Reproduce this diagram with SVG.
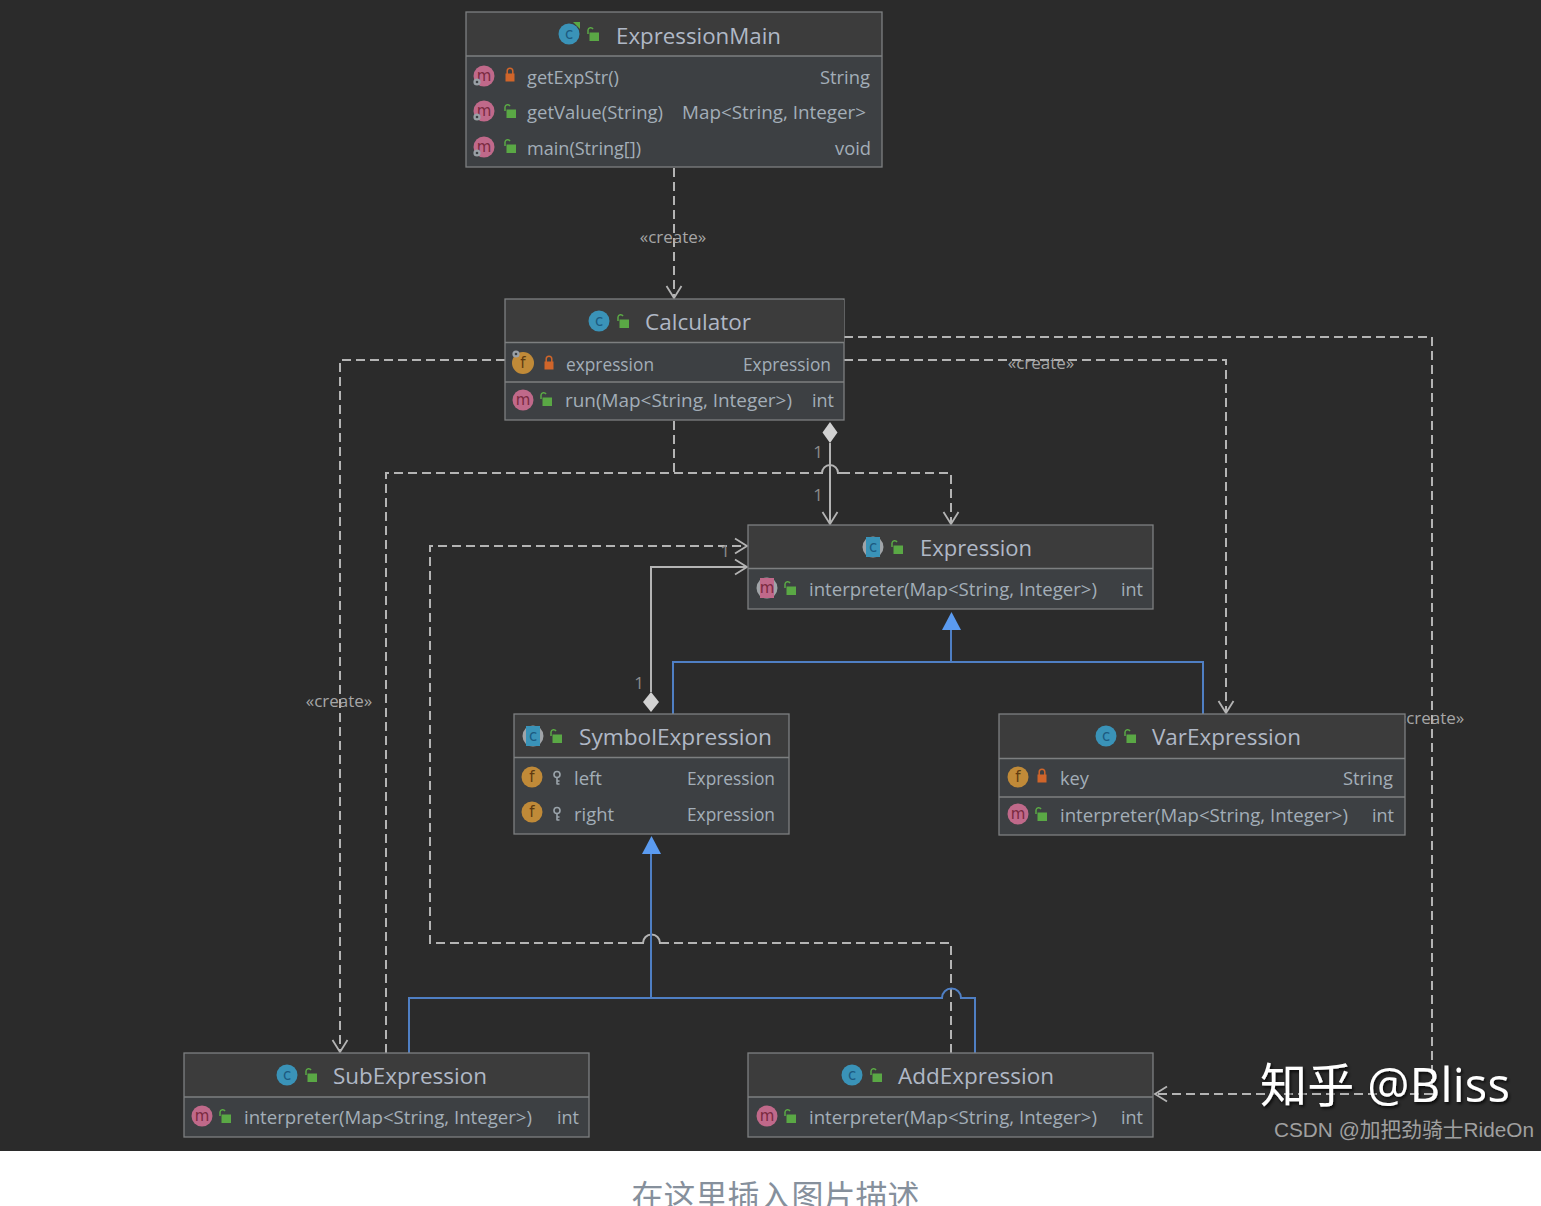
<svg xmlns="http://www.w3.org/2000/svg" width="1541" height="1206" viewBox="0 0 1541 1206">
<style>
text{font-family:"Open Sans","Noto Sans",sans-serif;fill:#a3aeb8;font-size:18.500px}
.t{font-size:22.500px;fill:#b0b8c6}
.r{text-anchor:end}
.lb{font-size:17px;fill:#a6a6a6;text-anchor:middle}
.n{font-size:17px;fill:#8c8c8c;text-anchor:middle}
.box{fill:#3d4043;stroke:#7d7f80;stroke-width:1.300}
.hd{fill:#3c3c3c}
.sep{stroke:#7d7f80;stroke-width:1.300}
.dash{fill:none;stroke:#b4b4b4;stroke-width:2;stroke-dasharray:9 5}
.solid{fill:none;stroke:#b4b4b4;stroke-width:2}
.blue{fill:none;stroke:#4f7fc4;stroke-width:2}
.ic{font-size:15px;text-anchor:middle;font-family:"DejaVu Sans",sans-serif}
.m{fill:#c0698a}.f{fill:#c08a38}.c{fill:#3a93b8}
.mt{fill:#7a2a40}.ft{fill:#5e3a10}.ct{fill:#1c5a80}
.wm{font-family:"Open Sans","Noto Sans CJK SC",sans-serif;fill:#fff;font-size:47px;filter:url(#sh)}
.cs{font-family:"Liberation Sans","Noto Sans CJK SC",sans-serif;fill:#a0a0a0;font-size:21px}
.cap{font-family:"Noto Sans CJK SC",sans-serif;fill:#86909c;font-size:32px;text-anchor:middle}
</style>
<defs>
<marker id="open" viewBox="0 0 16 18" refX="14" refY="9" markerWidth="16" markerHeight="18" markerUnits="userSpaceOnUse" orient="auto"><path d="M2 1.500L14 9L2 16.500" fill="none" stroke="#b4b4b4" stroke-width="1.800"/></marker>
<g id="lo"><path d="M-5 -1v-4a2.700 2.700 0 0 1 5-1" fill="none" stroke="#5aa845" stroke-width="1.500"/><rect x="-3.500" y="-2.500" width="9.500" height="8.500" fill="#5aa845"/></g>
<g id="lc"><path d="M-2.800 -1v-3a2.800 2.800 0 0 1 5.600 0v3" fill="none" stroke="#d0652a" stroke-width="1.500"/><rect x="-4.500" y="-1.500" width="9" height="8" fill="#d0652a"/></g>
<g id="key"><circle cx="0" cy="-3.500" r="3" fill="none" stroke="#9aa3aa" stroke-width="1.600"/><path d="M0 -0.500v7M0 3h2.500M0 6h2.500" fill="none" stroke="#9aa3aa" stroke-width="1.600"/></g>
<g id="pin"><circle r="3.600" fill="#9aa0a6"/><circle r="1.300" fill="#3d4043"/></g>
<filter id="sh" x="-5%" y="-10%" width="110%" height="125%"><feDropShadow dx="1.500" dy="2" stdDeviation="1.500" flood-color="#000" flood-opacity=".8"/></filter>
</defs>
<rect width="1541" height="1151" fill="#2b2b2b"/>
<rect y="1151" width="1541" height="55" fill="#fff"/>

<g id="connectors">
<path class="dash" d="M674 168V298" marker-end="url(#open)"/>
<path class="dash" d="M505 360H340V1052" marker-end="url(#open)"/>
<path class="dash" d="M844 360H1226V713" marker-end="url(#open)"/>
<path class="dash" d="M844 337H1432V1094H1155" marker-end="url(#open)"/>
<path class="dash" d="M674 421V473"/>
<path class="dash" d="M386 1053V473H820"/>
<path class="solid" d="M820 473H822a8 8 0 0 1 16 0H841"/>
<path class="dash" d="M841 473H951V524" marker-end="url(#open)"/>
<path class="solid" d="M830 443V524" marker-end="url(#open)"/>
<path d="M830 422L837.500 432.500L830 443L822.500 432.500Z" fill="#d2d2d2"/>
<path class="dash" d="M951 1053V943H662"/>
<path class="solid" d="M662 943H660a8.500 8.500 0 0 0 -17 0H641"/>
<path class="dash" d="M641 943H430V546H747" marker-end="url(#open)"/>
<path class="solid" d="M651 692V567H747" marker-end="url(#open)"/>
<path d="M651 692L659 702L651 712L643 702Z" fill="#d2d2d2"/>
<path class="blue" d="M673 714V662H1203V714M951 662V628"/>
<path d="M951.500 612L961 630H942Z" fill="#5b9bf0"/>
<path class="blue" d="M651 852V998M409 1053V998H942a9.500 9.500 0 0 1 19 0H975V1053"/>
<path d="M651.500 836L661 854H642Z" fill="#5b9bf0"/>
<text class="lb" x="673" y="243">«create»</text>
<text class="lb" x="339" y="707">«create»</text>
<text class="lb" x="1041" y="369">«create»</text>
<text class="lb" x="1431" y="724">«create»</text>
<text class="n" x="818" y="458">1</text>
<text class="n" x="818" y="501">1</text>
<text class="n" x="639" y="689">1</text>
<text class="n" x="725" y="557">1</text>
</g>

<g id="node-expressionmain">
<rect class="box" x="466" y="12" width="416" height="155"/>
<rect class="hd" x="467" y="13" width="414" height="43"/>
<path class="sep" d="M466 56H882"/>
<circle class="c" cx="569" cy="34" r="10.500"/><text class="ic ct" x="569" y="39">c</text>
<path d="M573 22h7v7z" fill="#5aa845"/>
<use href="#lo" x="593" y="35"/>
<text class="t" x="616" y="44" textLength="165" lengthAdjust="spacingAndGlyphs">ExpressionMain</text>
<circle class="m" cx="484" cy="76" r="10.500"/><text class="ic mt" x="484" y="81">m</text><use href="#pin" x="477" y="82"/>
<use href="#lc" x="510" y="75"/>
<text x="527" y="84" textLength="92" lengthAdjust="spacingAndGlyphs">getExpStr()</text><text x="820" y="84" textLength="50" lengthAdjust="spacingAndGlyphs">String</text>
<circle class="m" cx="484" cy="111" r="10.500"/><text class="ic mt" x="484" y="116">m</text><use href="#pin" x="477" y="117"/>
<use href="#lo" x="510" y="112"/>
<text x="527" y="119" textLength="136" lengthAdjust="spacingAndGlyphs">getValue(String)</text><text x="682" y="119" textLength="184" lengthAdjust="spacingAndGlyphs">Map&lt;String, Integer&gt;</text>
<circle class="m" cx="484" cy="147" r="10.500"/><text class="ic mt" x="484" y="152">m</text><use href="#pin" x="477" y="153"/>
<use href="#lo" x="510" y="147"/>
<text x="527" y="155" textLength="114" lengthAdjust="spacingAndGlyphs">main(String[])</text><text x="835" y="155" textLength="36" lengthAdjust="spacingAndGlyphs">void</text>
</g>

<g id="node-calculator">
<rect class="box" x="505" y="299" width="339" height="121"/>
<rect class="hd" x="506" y="300" width="338" height="42"/>
<path class="sep" d="M505 342.500H844M505 382H844"/>
<circle class="c" cx="599" cy="321" r="10.500"/><text class="ic ct" x="599" y="326">c</text>
<use href="#lo" x="623" y="322"/>
<text class="t" x="645" y="330" textLength="106" lengthAdjust="spacingAndGlyphs">Calculator</text>
<circle class="f" cx="523" cy="363" r="11"/><text class="ic ft" x="523" y="368">f</text><use href="#pin" x="516" y="354"/>
<use href="#lc" x="549" y="363"/>
<text x="566" y="371" textLength="88" lengthAdjust="spacingAndGlyphs">expression</text><text x="743" y="371" textLength="88" lengthAdjust="spacingAndGlyphs">Expression</text>
<circle class="m" cx="523" cy="400" r="10.500"/><text class="ic mt" x="523" y="405">m</text>
<use href="#lo" x="546" y="400"/>
<text x="565" y="407" textLength="227" lengthAdjust="spacingAndGlyphs">run(Map&lt;String, Integer&gt;)</text><text x="812" y="407" textLength="22" lengthAdjust="spacingAndGlyphs">int</text>
</g>

<g id="node-expression">
<rect class="box" x="748" y="525" width="405" height="84"/>
<rect class="hd" x="749" y="526" width="403" height="42"/>
<path class="sep" d="M748 568.500H1153"/>
<circle cx="873" cy="547" r="10.500" fill="#a0a4a8"/><rect x="866" y="537" width="14" height="20" fill="#3a93b8"/><text class="ic ct" x="873" y="552">c</text>
<use href="#lo" x="897" y="548"/>
<text class="t" x="920" y="556" textLength="112" lengthAdjust="spacingAndGlyphs">Expression</text>
<circle cx="767" cy="588" r="10.500" fill="#a0a4a8"/><rect x="760" y="578" width="14" height="20" fill="#c0698a"/><text class="ic mt" x="767" y="593">m</text>
<use href="#lo" x="790" y="589"/>
<text x="809" y="596" textLength="288" lengthAdjust="spacingAndGlyphs">interpreter(Map&lt;String, Integer&gt;)</text><text x="1121" y="596" textLength="22" lengthAdjust="spacingAndGlyphs">int</text>
</g>

<g id="node-symbolexpression">
<rect class="box" x="514" y="714" width="275" height="120"/>
<rect class="hd" x="515" y="715" width="273" height="42"/>
<path class="sep" d="M514 757.500H789"/>
<circle cx="533" cy="736" r="10.500" fill="#a0a4a8"/><rect x="526" y="726" width="14" height="20" fill="#3a93b8"/><text class="ic ct" x="533" y="741">c</text>
<use href="#lo" x="556" y="737"/>
<text class="t" x="579" y="745" textLength="193" lengthAdjust="spacingAndGlyphs">SymbolExpression</text>
<circle class="f" cx="532" cy="777" r="10.500"/><text class="ic ft" x="532" y="782">f</text>
<use href="#key" x="557" y="778"/>
<text x="574" y="785" textLength="28" lengthAdjust="spacingAndGlyphs">left</text><text x="687" y="785" textLength="88" lengthAdjust="spacingAndGlyphs">Expression</text>
<circle class="f" cx="532" cy="812" r="10.500"/><text class="ic ft" x="532" y="817">f</text>
<use href="#key" x="557" y="814"/>
<text x="574" y="821" textLength="40" lengthAdjust="spacingAndGlyphs">right</text><text x="687" y="821" textLength="88" lengthAdjust="spacingAndGlyphs">Expression</text>
</g>

<g id="node-varexpression">
<rect class="box" x="999" y="714" width="406" height="121"/>
<rect class="hd" x="1000" y="715" width="404" height="43"/>
<path class="sep" d="M999 758.500H1405M999 797H1405"/>
<circle class="c" cx="1106" cy="736" r="10.500"/><text class="ic ct" x="1106" y="741">c</text>
<use href="#lo" x="1130" y="737"/>
<text class="t" x="1152" y="745" textLength="149" lengthAdjust="spacingAndGlyphs">VarExpression</text>
<circle class="f" cx="1018" cy="777" r="10.500"/><text class="ic ft" x="1018" y="782">f</text>
<use href="#lc" x="1042" y="776"/>
<text x="1060" y="785" textLength="29" lengthAdjust="spacingAndGlyphs">key</text><text x="1343" y="785" textLength="50" lengthAdjust="spacingAndGlyphs">String</text>
<circle class="m" cx="1018" cy="814" r="10.500"/><text class="ic mt" x="1018" y="819">m</text>
<use href="#lo" x="1041" y="815"/>
<text x="1060" y="822" textLength="288" lengthAdjust="spacingAndGlyphs">interpreter(Map&lt;String, Integer&gt;)</text><text x="1372" y="822" textLength="22" lengthAdjust="spacingAndGlyphs">int</text>
</g>

<g id="node-subexpression">
<rect class="box" x="184" y="1053" width="405" height="84"/>
<rect class="hd" x="185" y="1054" width="403" height="43"/>
<path class="sep" d="M184 1097H589"/>
<circle class="c" cx="287" cy="1075" r="10.500"/><text class="ic ct" x="287" y="1080">c</text>
<use href="#lo" x="311" y="1076"/>
<text class="t" x="333" y="1084" textLength="154" lengthAdjust="spacingAndGlyphs">SubExpression</text>
<circle class="m" cx="202" cy="1116" r="10.500"/><text class="ic mt" x="202" y="1121">m</text>
<use href="#lo" x="225" y="1117"/>
<text x="244" y="1124" textLength="288" lengthAdjust="spacingAndGlyphs">interpreter(Map&lt;String, Integer&gt;)</text><text x="557" y="1124" textLength="22" lengthAdjust="spacingAndGlyphs">int</text>
</g>

<g id="node-addexpression">
<rect class="box" x="748" y="1053" width="405" height="84"/>
<rect class="hd" x="749" y="1054" width="403" height="43"/>
<path class="sep" d="M748 1097H1153"/>
<circle class="c" cx="852" cy="1075" r="10.500"/><text class="ic ct" x="852" y="1080">c</text>
<use href="#lo" x="876" y="1076"/>
<text class="t" x="898" y="1084" textLength="156" lengthAdjust="spacingAndGlyphs">AddExpression</text>
<circle class="m" cx="767" cy="1116" r="10.500"/><text class="ic mt" x="767" y="1121">m</text>
<use href="#lo" x="790" y="1117"/>
<text x="809" y="1124" textLength="288" lengthAdjust="spacingAndGlyphs">interpreter(Map&lt;String, Integer&gt;)</text><text x="1121" y="1124" textLength="22" lengthAdjust="spacingAndGlyphs">int</text>
</g>

<text class="wm" x="1260" y="1102" textLength="250">知乎 @Bliss</text>
<text class="cs" x="1274" y="1137" textLength="260" lengthAdjust="spacingAndGlyphs">CSDN @加把劲骑士RideOn</text>
<text class="cap" x="775.500" y="1208">在这里插入图片描述</text>
</svg>
